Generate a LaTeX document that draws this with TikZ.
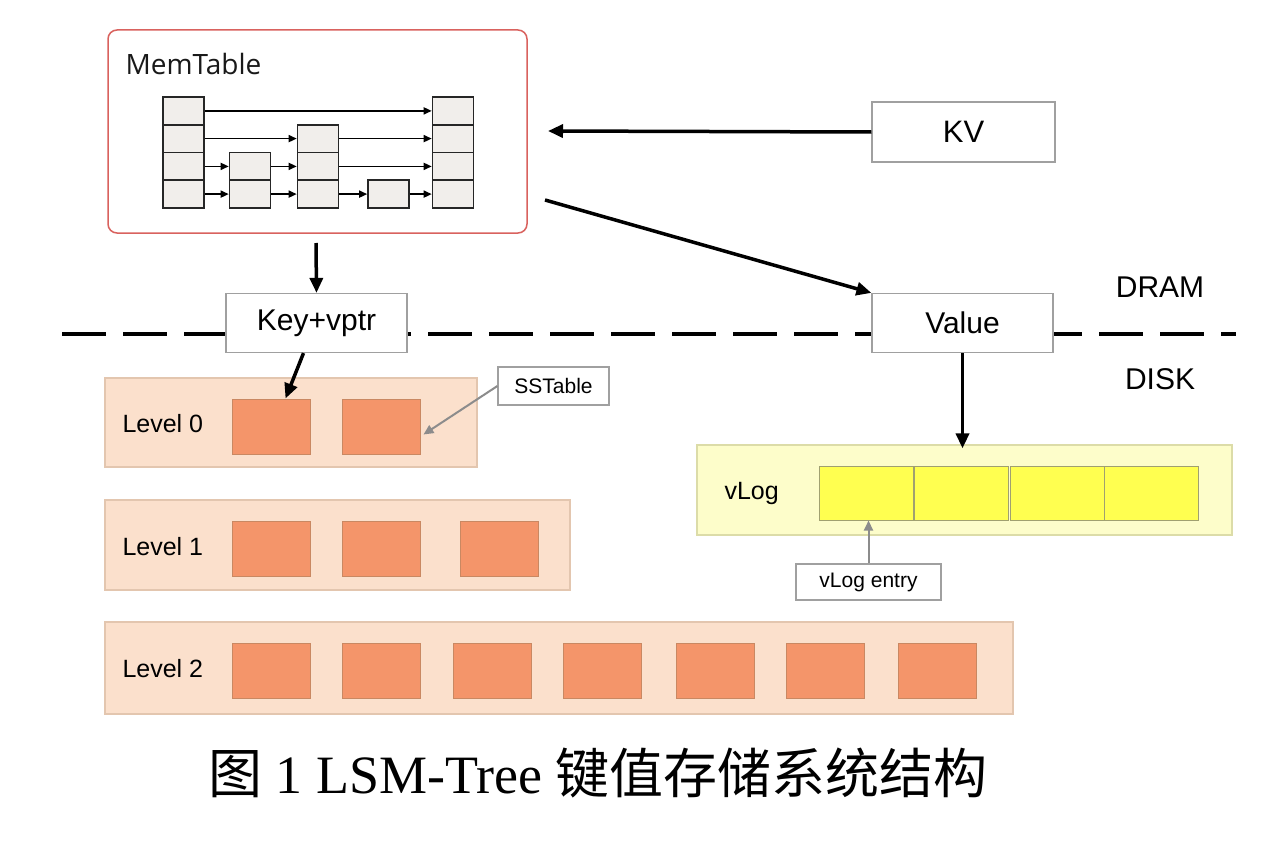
\documentclass[tikz,border=0pt]{standalone}
\usepackage{fontspec}
\setmainfont{Liberation Serif}
\setsansfont{Liberation Sans}
\newfontfamily\memfont{Open Sans}
\newfontfamily\cjk{Noto Sans CJK SC}
\usetikzlibrary{arrows.meta}
\definecolor{memred}{HTML}{D9625E}
\definecolor{cellfill}{HTML}{F1EEEB}
\definecolor{boxgray}{HTML}{A0A0A0}
\definecolor{peach}{HTML}{FBE0CC}
\definecolor{peachline}{HTML}{E3C6AF}
\definecolor{sst}{HTML}{F4956A}
\definecolor{sstline}{HTML}{C98862}
\definecolor{ylpanel}{HTML}{FDFDCA}
\definecolor{ylline}{HTML}{DCDCA8}
\definecolor{ylentry}{HTML}{FFFF50}
\definecolor{ylentryline}{HTML}{A0A070}
\definecolor{ptrgray}{HTML}{8C8C8C}
\tikzset{
  fs/.style={font=\fontsize{#1}{#1}\selectfont\sffamily},
  labelbox/.style={draw=boxgray, line width=1.2pt, fill=white, inner sep=0pt, fs=#1},
  cell/.style={draw=black!85, line width=1.6pt, fill=cellfill, minimum width=41pt, minimum height=27.75pt, inner sep=0pt},
  skiparrow/.style={line width=1.6pt, -{Triangle[length=8pt,width=7pt]}},
  bigarrow/.style={line width=3.5pt, -{Triangle[length=15pt,width=13pt]}},
  grayarrow/.style={draw=ptrgray, line width=2pt, -{Triangle[length=10pt,width=9pt]}},
  panel/.style={draw=peachline, line width=1.2pt, fill=peach, inner sep=0pt},
  sstbox/.style={draw=sstline, line width=1pt, fill=sst, minimum width=78pt, minimum height=55pt, inner sep=0pt},
  vpanel/.style={draw=ylline, line width=1.2pt, fill=ylpanel, inner sep=0pt},
  vent/.style={draw=ylentryline, line width=1pt, fill=ylentry, minimum width=94pt, minimum height=54pt, inner sep=0pt},
  dashline/.style={line width=4pt, dash pattern=on 44pt off 17pt},
  lvl/.style={anchor=west, fs=25}
}
\begin{document}
\begin{tikzpicture}[x=1pt,y=-1pt]
\useasboundingbox (0,0) rectangle (1273,843);
\fill[white] (0,0) rectangle (1273,843);

% dashed DRAM/DISK border
\coordinate (dl) at (62,334);
\coordinate (dr) at (1236,334);
\draw[dashline] (dl) -- (dr);

% MemTable
\node[draw=memred, line width=1.5pt, rounded corners=9pt, fill=white, minimum width=419pt, minimum height=203pt, inner sep=0pt] (mem) at (317.5,131.5) {};
\node[anchor=west, font=\fontsize{28}{28}\selectfont\memfont, text=black!90] (memlabel) at (122,64) {MemTable};

% skip list cells
\foreach \c/\x in {1/183.5,2/250,3/318,4/388.5,5/453}{
  \foreach \r/\y in {1/110.9,2/138.6,3/166.4,4/194.1}{
    \coordinate (p\c\r) at (\x,\y);
  }
}
\foreach \c/\r in {1/1,1/2,1/3,1/4,2/3,2/4,3/2,3/3,3/4,4/4,5/1,5/2,5/3,5/4}{
  \node[cell] (c\c r\r) at (p\c\r) {};
}
\foreach \a/\b/\r in {1/5/1, 1/3/2, 3/5/2, 1/2/3, 2/3/3, 3/5/3, 1/2/4, 2/3/4, 3/4/4, 4/5/4}{
  \draw[skiparrow] (c\a r\r.east) -- (c\b r\r.west);
}

% KV, Key+vptr, Value
\node[labelbox=31, minimum width=183pt, minimum height=60pt] (kv) at (963.5,132) {KV};
\node[labelbox=30, minimum width=181pt, minimum height=59pt] (keyv) at (316.5,323) {Key+vptr};
\node[labelbox=30, minimum width=181pt, minimum height=59pt] (val) at (962.5,323) {Value};

\node[fs=30] (dram) at (1160,287) {DRAM};
\node[fs=30] (disk) at (1160,379) {DISK};

% Levels
\node[panel, minimum width=372pt, minimum height=89pt] (l0) at (291,422.5) {};
\node[lvl] (l0t) at (119,424) {Level 0};
\node[sstbox] (s01) at (271.5,426.5) {};
\node[sstbox] (s02) at (381,426.5) {};

\node[panel, minimum width=465pt, minimum height=90pt] (l1) at (337.5,545) {};
\node[lvl] (l1t) at (119,547) {Level 1};
\foreach \i/\x in {1/271.5,2/381,3/499}{
  \node[sstbox] (s1\i) at (\x,548.5) {};
}

\node[panel, minimum width=908pt, minimum height=92pt] (l2) at (559,668) {};
\node[lvl] (l2t) at (119,669) {Level 2};
\foreach \i/\x in {1/271.5,2/381,3/492,4/602,5/715,6/825,7/937}{
  \node[sstbox] (s2\i) at (\x,670.5) {};
}

\node[labelbox=21, minimum width=111pt, minimum height=38pt] (sstl) at (553.5,386) {SSTable};

% vLog
\node[vpanel, minimum width=535pt, minimum height=90pt] (vl) at (964.5,490) {};
\node[anchor=west, fs=25] (vlt) at (721,493) {vLog};
\foreach \i/\x in {1/866.5,2/961.5,3/1057.5,4/1151.5}{
  \node[vent] (v\i) at (\x,493) {};
}
\node[labelbox=21, minimum width=145pt, minimum height=36pt] (vle) at (868.5,582) {vLog entry};

% connectors
\coordinate (memin) at (548,131);
\draw[bigarrow] (kv.west) -- (memin);
\coordinate (memout) at (545,200);
\draw[bigarrow] (memout) -- (val.north west);
\coordinate (memdown) at (316,243);
\draw[bigarrow] (memdown) -- (keyv.north);
\draw[bigarrow] ([xshift=-13pt]keyv.south) -- ([xshift=14pt]s01.north);
\draw[bigarrow] (val.south) -- ([yshift=-4pt]val.south |- vl.north);
\draw[grayarrow] (sstl.west) -- ([yshift=-8pt,xshift=3pt]s02.east);
\draw[grayarrow] (vle.north) -- (vle.north |- v1.south);

% caption
\node[font=\fontsize{54}{54}\selectfont\rmfamily] (cap) at (598,773) {{\cjk 图} 1 LSM-Tree {\cjk 键值存储系统结构}};
\end{tikzpicture}
\end{document}
